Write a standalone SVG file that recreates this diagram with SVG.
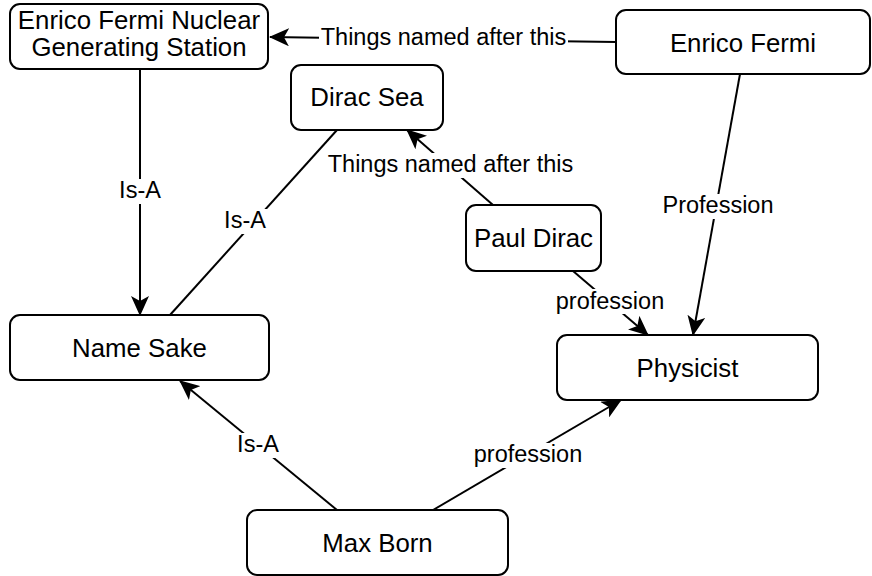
<svg xmlns="http://www.w3.org/2000/svg" width="872" height="576" viewBox="0 0 872 576">
<style>
.node rect{fill:#fff;stroke:#000;stroke-width:2}
.node text{font-family:"Liberation Sans",Arial,Helvetica,sans-serif;font-size:25.8px;fill:#000;text-anchor:middle}
.edge line{stroke:#000;stroke-width:2;fill:none}
.lbl rect{fill:#fff;stroke:none}
.lbl text{font-family:"Liberation Sans",Arial,Helvetica,sans-serif;font-size:23.5px;fill:#000;text-anchor:middle}
</style>
<defs>
<marker id="arr" viewBox="0 0 20 18" refX="19" refY="9" markerWidth="20" markerHeight="18" markerUnits="userSpaceOnUse" orient="auto">
<path d="M0,0 L20,9 L0,18 L5,9 Z" fill="#000"/>
</marker>
</defs>
<rect width="872" height="576" fill="#fff"/>
<g id="connectors">
<g class="edge"><line x1="616" y1="42" x2="270" y2="37" marker-end="url(#arr)"/></g>
<g class="edge"><line x1="140" y1="69" x2="140" y2="315" marker-end="url(#arr)"/></g>
<g class="edge"><line x1="337" y1="130" x2="170" y2="315"/></g>
<g class="edge"><line x1="493" y1="205" x2="407" y2="130" marker-end="url(#arr)"/></g>
<g class="edge"><line x1="740" y1="74" x2="693" y2="335" marker-end="url(#arr)"/></g>
<g class="edge"><line x1="573" y1="271" x2="648" y2="335" marker-end="url(#arr)"/></g>
<g class="edge"><line x1="337" y1="510" x2="180" y2="381" marker-end="url(#arr)"/></g>
<g class="edge"><line x1="433" y1="510" x2="621" y2="400" marker-end="url(#arr)"/></g>
<g class="lbl"><rect x="319" y="25" width="249" height="25"/><text x="443.5" y="44.5">Things named after this</text></g>
<g class="lbl"><rect x="118" y="179" width="44" height="25"/><text x="140" y="198">Is-A</text></g>
<g class="lbl"><rect x="223" y="209" width="44" height="25"/><text x="245" y="228">Is-A</text></g>
<g class="lbl"><rect x="327" y="153" width="247" height="25"/><text x="450.5" y="172">Things named after this</text></g>
<g class="lbl"><rect x="662" y="194" width="113" height="25"/><text x="718" y="213">Profession</text></g>
<g class="lbl"><rect x="555" y="289" width="110" height="25"/><text x="610" y="308.5">profession</text></g>
<g class="lbl"><rect x="236" y="433" width="44" height="25"/><text x="258" y="452">Is-A</text></g>
<g class="lbl"><rect x="473" y="443" width="110" height="25"/><text x="528" y="462">profession</text></g>
</g>
<g id="n-efngs" class="node"><rect x="10" y="4" width="258" height="65" rx="10"/><text x="139" y="28.5">Enrico Fermi Nuclear</text><text x="139" y="55.5">Generating Station</text></g>
<g id="n-fermi" class="node"><rect x="616" y="10" width="254" height="64" rx="10"/><text x="743" y="51.5">Enrico Fermi</text></g>
<g id="n-diracsea" class="node"><rect x="291" y="65" width="152" height="65" rx="10"/><text x="367" y="106">Dirac Sea</text></g>
<g id="n-pauldirac" class="node"><rect x="466" y="205" width="135" height="66" rx="10"/><text x="533.5" y="247">Paul Dirac</text></g>
<g id="n-namesake" class="node"><rect x="10" y="315" width="259" height="65" rx="10"/><text x="139.5" y="357">Name Sake</text></g>
<g id="n-physicist" class="node"><rect x="557" y="335" width="261" height="65" rx="10"/><text x="687.5" y="377">Physicist</text></g>
<g id="n-maxborn" class="node"><rect x="247" y="510" width="261" height="65" rx="10"/><text x="377.5" y="552">Max Born</text></g>
</svg>
